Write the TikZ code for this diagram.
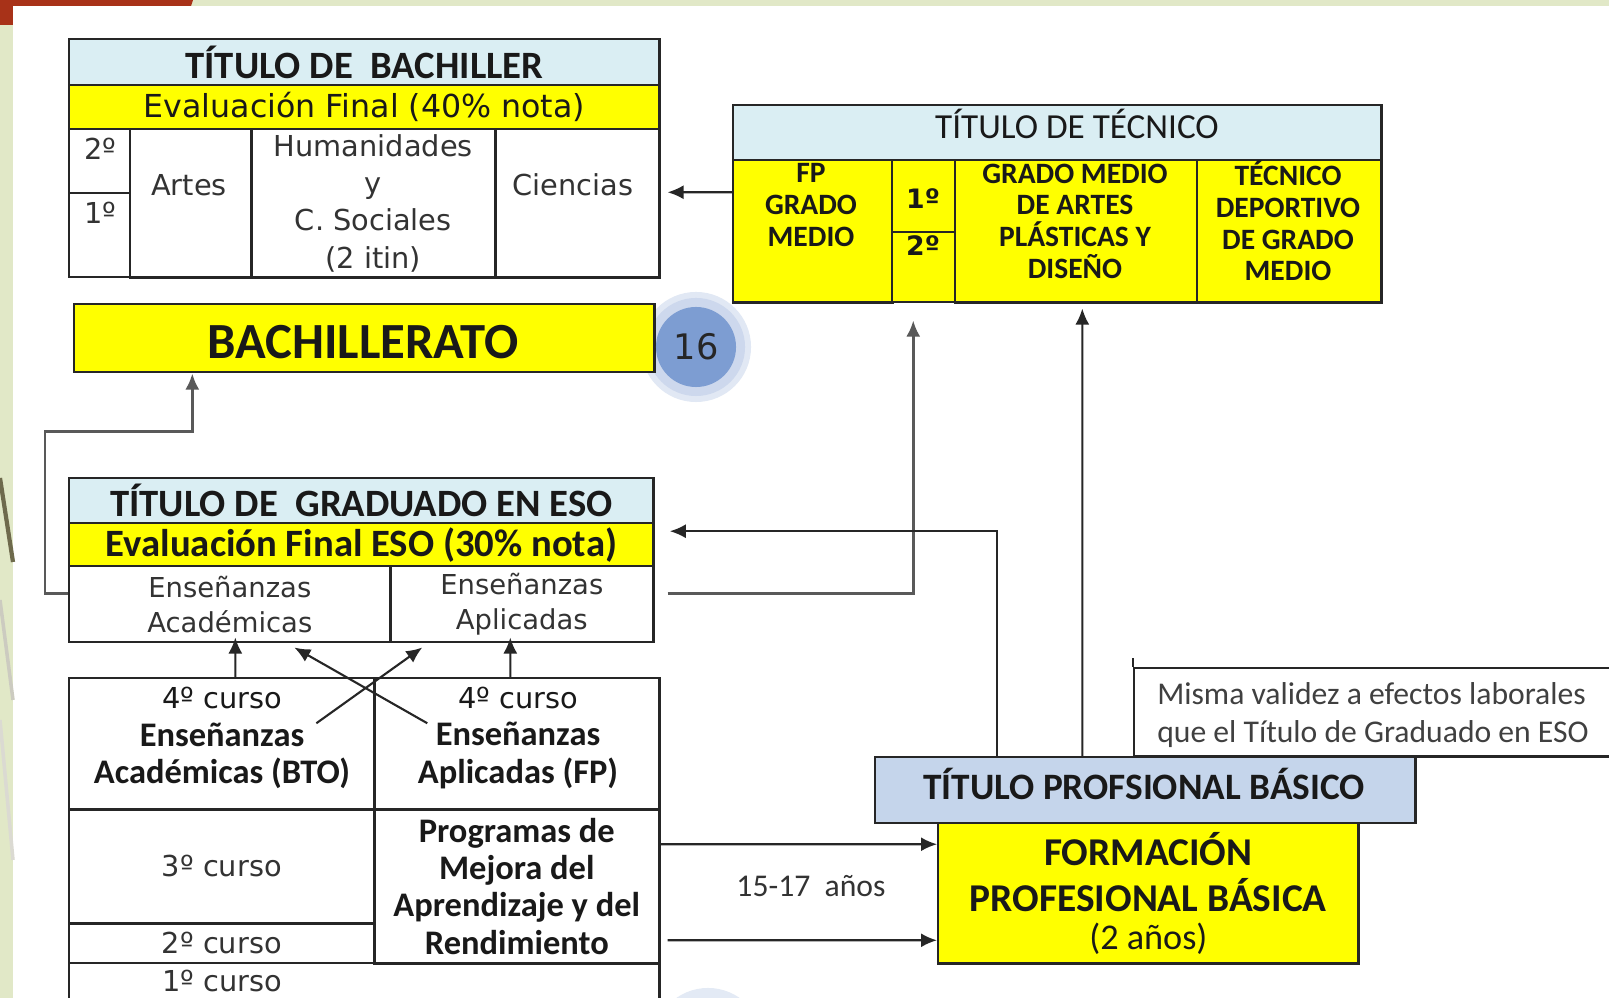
\documentclass[tikz,border=0pt]{standalone}
\usepackage{fontspec}
\setmainfont{Carlito}
\newfontfamily\dejavu{DejaVu Sans}
\usetikzlibrary{arrows.meta}
\definecolor{azulcab}{HTML}{DAEEF3}
\definecolor{azulpb}{HTML}{C5D5EB}
\definecolor{amarillo}{HTML}{FFFF00}
\definecolor{verdefondo}{HTML}{E1E8C7}
\definecolor{rojoteja}{HTML}{A83218}
\definecolor{oliva}{HTML}{6E6A4C}
\definecolor{bolaint}{HTML}{7D9DD2}
\definecolor{bolaext}{HTML}{CDD8ED}
\tikzset{
  celda/.style={draw=black!85, line width=0.7pt, rectangle, inner sep=0pt,
    anchor=north west, align=center, text=black!90},
  cab/.style={celda, fill=azulcab},
  ama/.style={celda, fill=amarillo},
  texto/.style={inner sep=0pt, align=center, text=black!90},
  conector/.style={draw=black!85, line width=0.6pt},
  gris/.style={draw=black!65, line width=0.8pt},
  titular/.style={font=\fontsize{11}{13}\selectfont\bfseries},
  verd/.style={font=\dejavu\fontsize{8.2}{10.6}\selectfont, text=black!80},
  negrita/.style={font=\fontsize{9.8}{10.6}\selectfont\bfseries},
  tecnico/.style={font=\fontsize{8.4}{9}\selectfont\bfseries},
}
\begin{document}
\begin{tikzpicture}[>={Latex[length=1.6mm,width=1.4mm]}, x=0.01cm, y=-0.01cm]
\useasboundingbox (0,0) rectangle (1609,998);
\clip (0,0) rectangle (1609,998);
% fondo
\fill[verdefondo] (0,0) rectangle (1609,998);
\fill[rojoteja] (0,0) -- (193,0) -- (185,25) -- (0,25) -- cycle;
\fill[white] (13,6) rectangle (1609,998);
\draw[oliva, line width=1.2pt] (0,478) -- (13,562);
\draw[oliva!35, line width=1pt] (0,600) -- (13,700);
\draw[oliva!25, line width=1pt] (0,720) -- (13,860);
\fill[bolaext!60] (696,347) circle (0.55cm);
\fill[bolaext] (696,347) circle (0.49cm);
\fill[bolaext!55] (708,1043) circle (0.55cm);

% titulo de bachiller
\node[cab, titular, minimum width=5.90cm, minimum height=0.46cm] (bhead) at (68,38) {TÍTULO DE~ BACHILLER};
\node[ama, minimum width=5.90cm, minimum height=0.44cm, font=\dejavu\fontsize{9}{11}\selectfont] (beval) at (68,84) {Evaluación Final (40\% nota)};
\node[celda, minimum width=0.61cm, minimum height=0.64cm] (b2) at (68,128) {};
\node[celda, minimum width=0.61cm, minimum height=0.84cm] (b1) at (68,192) {};
\node[celda, minimum width=1.21cm, minimum height=1.48cm] (bartes) at (129,128) {};
\node[celda, verd, minimum width=2.44cm, minimum height=1.48cm] (bhum) at (250,128) {Humanidades\\y\\C. Sociales\\(2 itin)};
\node[celda, minimum width=1.64cm, minimum height=1.48cm] (bcien) at (494,128) {};
\node[texto, verd] (b2-t) at (100,149) {2º};
\node[texto, verd] (b1-t) at (100,213) {1º};
\node[texto, verd] (bartes-t) at (189,185) {Artes};
\node[texto, verd] (bcien-t) at (573,185) {Ciencias};

% titulo de tecnico
\node[cab, minimum width=6.48cm, minimum height=0.55cm] (thead) at (732,104) {};
\node[texto, font=\fontsize{10}{12}\selectfont] (thead-t) at (1077,124) {TÍTULO DE TÉCNICO};
\node[ama, minimum width=1.59cm, minimum height=1.42cm] (tfp) at (732,159) {};
\node[ama, minimum width=0.63cm, minimum height=0.72cm] (t1) at (891,159) {};
\node[ama, minimum width=0.63cm, minimum height=0.70cm] (t2) at (891,231) {};
\node[ama, minimum width=2.42cm, minimum height=1.42cm] (tart) at (954,159) {};
\node[ama, minimum width=1.84cm, minimum height=1.42cm] (tdep) at (1196,159) {};
\node[texto, tecnico] (tfp-t) at (811,205) {FP\\GRADO\\MEDIO};
\node[texto, font=\dejavu\fontsize{7.6}{9}\selectfont\bfseries] (t1-t) at (923,199) {1º};
\node[texto, font=\dejavu\fontsize{7.6}{9}\selectfont\bfseries] (t2-t) at (923,246) {2º};
\node[texto, tecnico] (tart-t) at (1075,221) {GRADO MEDIO\\DE ARTES\\PLÁSTICAS Y\\DISEÑO};
\node[texto, tecnico] (tdep-t) at (1288,221) {TÉCNICO\\DEPORTIVO\\DE GRADO\\MEDIO};

% bachillerato
\node[ama, minimum width=5.80cm, minimum height=0.68cm] (bachi) at (73,303) {};
\node[texto, font=\fontsize{14.4}{17}\selectfont\bfseries] (bachi-t) at (363,342) {BACHILLERATO};
\node[circle, fill=bolaint, minimum size=0.80cm, inner sep=0pt, font=\dejavu\fontsize{10}{12}\selectfont, text=black!85] (c16) at (696,347) {16};

% titulo de graduado en eso
\node[cab, titular, minimum width=5.84cm, minimum height=0.45cm] (ehead) at (68,477) {TÍTULO DE~ GRADUADO EN ESO};
\node[ama, titular, minimum width=5.84cm, minimum height=0.43cm] (eeval) at (68,522) {Evaluación Final ESO (30\% nota)};
\node[celda, minimum width=3.21cm, minimum height=0.76cm, font=\dejavu\fontsize{7.8}{10}\selectfont, text=black!80] (eaca) at (68,565) {Enseñanzas\\Académicas};
\node[celda, minimum width=2.63cm, minimum height=0.76cm, font=\dejavu\fontsize{7.8}{10}\selectfont, text=black!80] (eapl) at (389,565) {Enseñanzas\\Aplicadas};

% cursos de la eso
\node[celda, minimum width=3.05cm, minimum height=1.31cm] (c4a) at (68,677) {};
\node[celda, minimum width=2.85cm, minimum height=1.31cm] (c4b) at (373,677) {};
\node[celda, verd, minimum width=3.05cm, minimum height=1.14cm] (c3) at (68,808) {3º curso};
\node[celda, verd, minimum width=3.05cm, minimum height=0.40cm] (c2) at (68,922) {2º curso};
\node[celda, negrita, minimum width=2.85cm, minimum height=1.54cm] (cprog) at (373,808) {Programas de\\Mejora del\\Aprendizaje y del\\Rendimiento};
\node[celda, minimum width=5.90cm, minimum height=0.50cm] (c1) at (68,962) {};
\node[texto, negrita] (c4a-t) at (222,738) {{\dejavu\mdseries\fontsize{8.2}{10.4}\selectfont 4º curso}\\Enseñanzas\\Académicas (BTO)};
\node[texto, negrita] (c4b-t) at (518,738) {{\dejavu\mdseries\fontsize{8.2}{10.4}\selectfont 4º curso}\\Enseñanzas\\Aplicadas (FP)};
\node[texto, verd] (c1-t) at (222,981) {1º curso};

% formacion profesional basica
\node[celda, fill=white, minimum width=4.80cm, minimum height=0.88cm] (mis) at (1133,667) {};
\node[texto, align=left, font=\fontsize{9}{10.8}\selectfont, text=black!75] (mis-t) at (1373,715) {Misma validez a efectos laborales\\que el Título de Graduado en ESO};
\draw[black!85, line width=0.7pt] (mis.north west) -- ++(0,-9);
\node[celda, fill=azulpb, minimum width=5.40cm, minimum height=0.66cm] (tpb) at (874,756) {};
\node[texto, font=\fontsize{10.6}{12}\selectfont\bfseries] (tpb-t) at (1144,784) {TÍTULO PROFSIONAL BÁSICO};
\node[ama, minimum width=4.20cm, minimum height=1.40cm, font=\fontsize{11.2}{10.8}\selectfont\bfseries] (fpb) at (937,822) {FORMACIÓN\\[2.3pt]PROFESIONAL BÁSICA\\{\mdseries\fontsize{10.3}{10.8}\selectfont (2 años)}};
\node[texto, font=\fontsize{9}{11}\selectfont, text=black!80] (edad) at (811,886) {15-17~ años};

% conectores
\draw[conector,->] ([yshift=3.9mm]tfp.west) -- ([xshift=0.7mm,yshift=1.1mm]bcien.east);
\draw[gris,->] ([yshift=1.1mm]eaca.west) -- ++(-23,0) |- ([xshift=-17.2mm,yshift=-5.8mm]bachi.south) -- ([xshift=-17.2mm]bachi.south);
\draw[gris,->] ([xshift=1.3mm,yshift=1.1mm]eapl.east) -| ([xshift=-1.05mm,yshift=-1.7mm]t2.south);
\draw[conector,->] ([xshift=-14.8mm]tpb.north) |- ([xshift=1.5mm,yshift=1.35mm]eeval.east);
\draw[conector,->] ([xshift=-6.3mm]tpb.north) -- ([xshift=0.6mm,yshift=-0.5mm]tart.south);
\draw[conector,->] ([xshift=1.35mm]c4a.north) -- ([xshift=0.55mm,yshift=0.6mm]eaca.south);
\draw[conector,->] ([xshift=-0.65mm]c4b.north) -- ([xshift=-1.15mm,yshift=0.6mm]eapl.south);
\draw[conector,->] ([xshift=9.45mm,yshift=2.05mm]c4a.center) -- ([xshift=-9.95mm,yshift=-0.4mm]eapl.south);
\draw[conector,->] ([xshift=-8.95mm,yshift=2.05mm]c4b.center) -- ([xshift=6.45mm,yshift=-0.4mm]eaca.south);
\draw[conector,->] ([yshift=4.2mm]cprog.east) -- ([yshift=4.9mm]fpb.west);
\draw[conector,->] ([xshift=0.7mm,yshift=-5.4mm]cprog.east) -- ([yshift=-4.7mm]fpb.west);
\end{tikzpicture}
\end{document}
